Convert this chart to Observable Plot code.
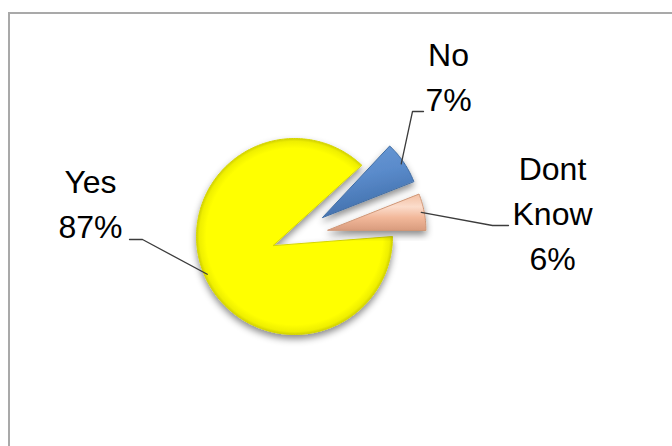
<!DOCTYPE html>
<html><head><meta charset="utf-8">
<script src="https://cdn.jsdelivr.net/npm/d3@7"></script>
<script src="https://cdn.jsdelivr.net/npm/@observablehq/plot@0.6"></script>
<style>
html,body{margin:0;padding:0;background:#fff;}
#wrap{position:relative;width:672px;height:446px;overflow:hidden;background:#fff;}
#frame{position:absolute;left:8px;top:12px;width:720px;height:500px;border:2px solid #a9a9a9;box-sizing:border-box;}
#chart{position:absolute;left:0;top:0;}
</style></head><body>
<div id="wrap"><div id="frame"></div><div id="chart"></div></div>
<script>
// ---- data ----
const categories = ["Yes", "No", "Dont Know"];
const values = [87, 7, 6];
const labelWords = [["Yes"], ["No"], ["Dont", "Know"]];

// ---- layout (not data) ----
const W = 672, H = 446, CX = 294, CY = 236, R = 98;
const explode = {Yes: {vertex: 23, arc: 0}, No: {vertex: 34, arc: 34}, "Dont Know": {vertex: 34, arc: 34}};
const labelAt = {Yes: [-204, -35], No: [154, -162], "Dont Know": [258, -26]};
const leaderPath = {Yes: [[-152, 3], [-165, 3]], No: [[118, -125], [129, -125]], "Dont Know": [[198, -11], [214, -11]]};
const fills = {Yes: "url(#gYes)", No: "url(#gNo)", "Dont Know": "url(#gDK)"};
const strokes = {Yes: "#d6d600", No: "#3f6ca3", "Dont Know": "#cf9676"};

const rows = categories.map((c, i) => ({cat: c, value: values[i], words: labelWords[i]}));
const total = d3.sum(values);
const arcs = d3.pie().sort(null).value(d => d.value)
  .startAngle(Math.PI / 2).endAngle(Math.PI / 2 + 2 * Math.PI)(rows);

const pt = (th, r, o = [0, 0]) => [o[0] + r * Math.sin(th), o[1] - r * Math.cos(th)];

const slices = arcs.map(a => {
  const cat = a.data.cat, m = (a.startAngle + a.endAngle) / 2;
  const v = pt(m, explode[cat].vertex), c = pt(m, explode[cat].arc);
  const n = Math.ceil((a.endAngle - a.startAngle) / (Math.PI / 180)) + 1;
  const pts = [{x: v[0], y: v[1]}];
  for (let k = 0; k <= n; k++) {
    const th = a.startAngle + (a.endAngle - a.startAngle) * k / n;
    const p = pt(th, R, c);
    pts.push({x: p[0], y: p[1]});
  }
  return {cat, m, c, pts};
});

const leaders = slices.flatMap(s => {
  const a = pt(s.m, R * 0.97, s.c);
  return [{cat: s.cat, x: a[0], y: a[1]}, ...leaderPath[s.cat].map(p => ({cat: s.cat, x: p[0], y: p[1]}))];
});

const labelRows = arcs.map(a => {
  const cat = a.data.cat;
  return {x: labelAt[cat][0], y: labelAt[cat][1],
    text: [...a.data.words, Math.round(a.data.value / total * 100) + "%"].join("\n")};
});

const defsMark = () => {
  const defs = d3.create("svg:defs");
  const f = defs.append("filter").attr("id", "shadow").attr("x", "-20%").attr("y", "-20%").attr("width", "140%").attr("height", "150%");
  f.append("feDropShadow").attr("dx", 0).attr("dy", 4).attr("stdDeviation", 3.5).attr("flood-color", "#000").attr("flood-opacity", 0.45);
  const gy = defs.append("radialGradient").attr("id", "gYes").attr("cx", 0.5).attr("cy", 0.5).attr("r", 0.5);
  [[0, "#ffff00"], [0.9, "#ffff00"], [0.97, "#efef00"], [1, "#d2d200"]].forEach(([o, c]) => gy.append("stop").attr("offset", o).attr("stop-color", c));
  const gb = defs.append("linearGradient").attr("id", "gNo").attr("x1", 0).attr("y1", 0).attr("x2", 0.3).attr("y2", 1);
  [[0, "#6b9ad6"], [0.5, "#5a8bcb"], [1, "#416fab"]].forEach(([o, c]) => gb.append("stop").attr("offset", o).attr("stop-color", c));
  const gp = defs.append("linearGradient").attr("id", "gDK").attr("x1", 0).attr("y1", 0).attr("x2", 0).attr("y2", 1);
  [[0, "#f3bfa2"], [0.35, "#fbdccb"], [0.65, "#f2b89a"], [1, "#d99c7e"]].forEach(([o, c]) => gp.append("stop").attr("offset", o).attr("stop-color", c));
  return defs.node();
};

const chart = Plot.plot({
  width: W, height: H, margin: 0,
  x: {domain: [-CX, W - CX], range: [0, W], axis: null},
  y: {domain: [-CY, H - CY], range: [0, H], axis: null},
  style: {background: "transparent", overflow: "visible"},
  marks: [
    defsMark,
    ...slices.map(s => Plot.line(s.pts, {x: "x", y: "y", fill: fills[s.cat], stroke: strokes[s.cat], strokeWidth: 1, curve: "linear-closed"})),
    Plot.line(leaders, {x: "x", y: "y", z: "cat", stroke: "#3c3c3c", strokeWidth: 1.3}),
    Plot.text(labelRows, {x: "x", y: "y", text: "text", fontSize: 32, lineHeight: 1.4,
      fontFamily: "'Liberation Sans', Arial, sans-serif", fill: "#000"})
  ]
});
const gs = chart.querySelectorAll('g[aria-label="line"]');
for (let i = 0; i < slices.length; i++) gs[i].setAttribute("filter", "url(#shadow)");
document.getElementById("chart").appendChild(chart);
</script>
</body></html>
